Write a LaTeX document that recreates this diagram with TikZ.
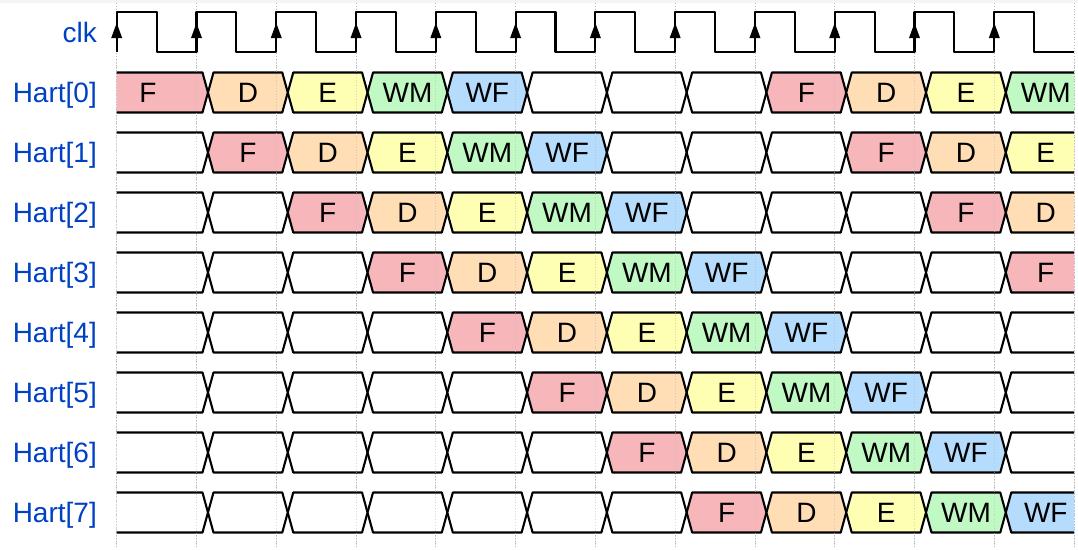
\documentclass[tikz,border=0pt]{standalone}
\usepackage{fontspec}
\setmainfont{Liberation Sans}
\definecolor{wavelabel}{HTML}{0041C4}
\definecolor{stage0}{HTML}{F7B6B9}
\definecolor{stage1}{HTML}{FFDDB5}
\definecolor{stage2}{HTML}{FFFFB4}
\definecolor{stage3}{HTML}{C0F9C3}
\definecolor{stage4}{HTML}{B5DCFC}

\begin{document}
\begin{tikzpicture}[x=1pt,y=-1pt,
		lbl/.style={text=wavelabel,font=\fontsize{28}{28}\selectfont,anchor=base east,inner sep=0pt},
		stagetext/.style={font=\fontsize{28}{28}\selectfont,anchor=base,inner sep=0pt},
		wave/.style={line width=2.1pt,line join=round},
		gridline/.style={gray!55,dotted,line width=0.8pt}]
				\useasboundingbox (0,0) rectangle (1078,550);
				\fill[gray!8] (0,0) rectangle (1078,2.5);
				\def\P{79.78}
				\def\Ezero{116.7}
				\def\R{1074}
				\def\h{5.5}
				% grid
				\foreach \k in {0,...,12}
					\draw[gridline] (\Ezero+\k*\P,3) -- (\Ezero+\k*\P,547);
				% clock
				\node[lbl] (clk) at (97,42.5) {clk};
				\draw[wave] (\Ezero,52.3) \foreach \k in {0,...,11}{ -- ++(0,-40) -- ++(\P/2,0) -- ++(0,40) -- ++(\P/2,0)};
				% edge arrows
				\foreach \k in {0,...,11}
					\fill (\Ezero+\k*\P-5.5,38) -- (\Ezero+\k*\P,23) -- (\Ezero+\k*\P+5.5,38) -- cycle;
				% harts
				\foreach \i in {0,...,7}{
					\pgfmathsetmacro\yt{72.5+60*\i}
					\pgfmathsetmacro\yc{\yt+20}
					\pgfmathsetmacro\yb{\yt+40}
					\node[lbl] (hart\i) at (97,\yc+10) {Hart[\i]};
					\foreach \j in {0,...,11}{
						\pgfmathsetmacro\a{\j==0 ? 116.7 : \Ezero+\j*\P+11.5}
						\pgfmathsetmacro\b{\j==11 ? \R : \Ezero+(\j+1)*\P+11.5}
						\pgfmathsetmacro\c{\j==0 ? 148 : \a+40}
						\pgfmathtruncatemacro\d{\j-\i}
						\pgfmathtruncatemacro\s{\d>7 ? \d-8 : ((\d>-1 && \d<5) ? \d : -1)}
						\ifnum\s<0 \def\fillc{white}\else\edef\fillc{stage\s}\fi
						\ifnum\j=0
							\fill[\fillc] (\a,\yt) -- (\b-\h,\yt) -- (\b,\yc) -- (\b-\h,\yb) -- (\a,\yb) -- cycle;
							\draw[wave] (\a,\yt) -- (\b-\h,\yt) -- (\b,\yc) -- (\b-\h,\yb) -- (\a,\yb);
						\else\ifnum\j=11
							\fill[\fillc] (\a,\yc) -- (\a+\h,\yt) -- (\b,\yt) -- (\b,\yb) -- (\a+\h,\yb) -- cycle;
							\draw[wave] (\b,\yt) -- (\a+\h,\yt) -- (\a,\yc) -- (\a+\h,\yb) -- (\b,\yb);
						\else
							\filldraw[wave,fill=\fillc] (\a,\yc) -- (\a+\h,\yt) -- (\b-\h,\yt) -- (\b,\yc) -- (\b-\h,\yb) -- (\a+\h,\yb) -- cycle;
						\fi\fi
						\ifnum\s>-1
							\node[stagetext] (s\i-\j) at (\c,\yc+10) {\ifcase\s F\or D\or E\or WM\or WF\fi};
						\fi
					}
				}
				% grid over the harts
				\foreach \k in {0,...,12}
					\draw[gridline,opacity=0.6] (\Ezero+\k*\P,60) -- (\Ezero+\k*\P,547);
			\end{tikzpicture}
\end{document}
